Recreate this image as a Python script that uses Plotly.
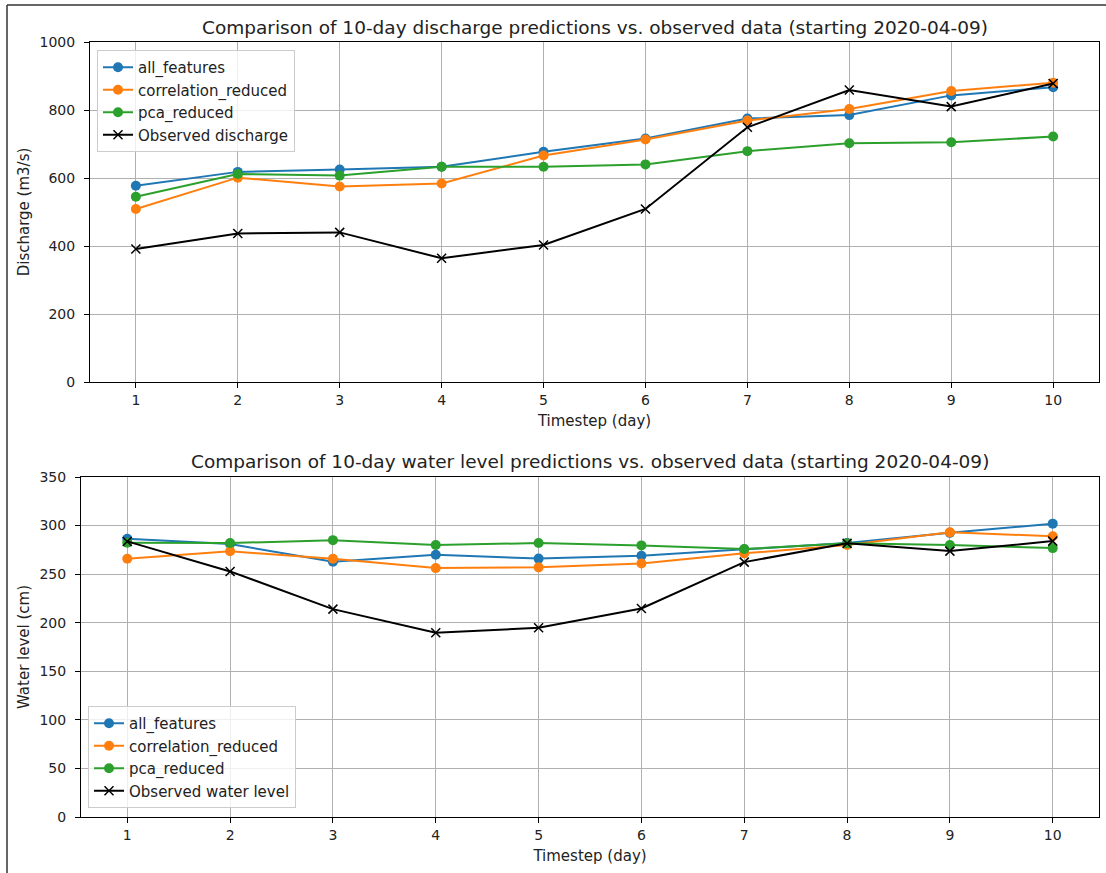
import plotly.graph_objects as go

days = [1, 2, 3, 4, 5, 6, 7, 8, 9, 10]

# Discharge (m3/s)
q_all_features = [577, 618, 625, 633, 677, 716, 775, 785, 843, 867]
q_correlation_reduced = [509, 601, 575, 584, 666, 713, 769, 803, 856, 880]
q_pca_reduced = [545, 612, 607, 633, 633, 640, 679, 702, 705, 722]
q_observed = [391, 437, 440, 364, 403, 509, 749, 859, 810, 878]

# Water level (cm)
w_all_features = [286.5, 281, 262.7, 270, 266, 269, 275.5, 282, 292.5, 302]
w_correlation_reduced = [265.8, 273.5, 265.8, 256.2, 257, 261, 271.4, 280, 293, 289]
w_pca_reduced = [282.3, 282, 285, 280, 282, 279.6, 275.8, 281.7, 280, 276.8]
w_observed = [283.7, 252.8, 214, 189.6, 194.8, 214.7, 262.4, 281.7, 273.7, 284]

x_ticks = [1, 2, 3, 4, 5, 6, 7, 8, 9, 10]
q_ticks = [0, 200, 400, 600, 800, 1000]
w_ticks = [0, 50, 100, 150, 200, 250, 300, 350]

title_q = "Comparison of 10-day discharge predictions vs. observed data (starting 2020-04-09)"
title_w = "Comparison of 10-day water level predictions vs. observed data (starting 2020-04-09)"

COLORS = {"all_features": "#1f77b4", "correlation_reduced": "#ff7f0e", "pca_reduced": "#2ca02c"}
FONT = "DejaVu Sans"

fig = go.Figure()

def add_model(name, y, xa, ya, legend):
    fig.add_trace(go.Scatter(
        x=days, y=y, name=name, mode="lines+markers",
        line=dict(color=COLORS[name], width=2),
        marker=dict(symbol="circle", size=10, color=COLORS[name]),
        xaxis=xa, yaxis=ya, legend=legend,
    ))

def add_obs(name, y, xa, ya, legend):
    fig.add_trace(go.Scatter(
        x=days, y=y, name=name, mode="lines+markers",
        line=dict(color="black", width=2),
        marker=dict(symbol="x-thin", size=9, color="black", line=dict(color="black", width=1.5)),
        xaxis=xa, yaxis=ya, legend=legend,
    ))

add_model("all_features", q_all_features, "x", "y", "legend")
add_model("correlation_reduced", q_correlation_reduced, "x", "y", "legend")
add_model("pca_reduced", q_pca_reduced, "x", "y", "legend")
add_obs("Observed discharge", q_observed, "x", "y", "legend")

add_model("all_features", w_all_features, "x2", "y2", "legend2")
add_model("correlation_reduced", w_correlation_reduced, "x2", "y2", "legend2")
add_model("pca_reduced", w_pca_reduced, "x2", "y2", "legend2")
add_obs("Observed water level", w_observed, "x2", "y2", "legend2")

W, H = 1106, 873
xdom_top = [90 / W, 1099 / W]
xdom_bot = [81 / W, 1099 / W]
ydom_top = [1 - 382 / H, 1 - 42 / H]
ydom_bot = [1 - 817 / H, 1 - 477 / H]

axis_common = dict(
    showline=True, linecolor="black", linewidth=1, mirror=True,
    ticks="outside", ticklen=5, tickcolor="black", tickwidth=1,
    showgrid=True, gridcolor="#b0b0b0", gridwidth=1,
    zeroline=False, automargin=False,
    tickfont=dict(family=FONT, size=14, color="#222"),
)

legend_common = dict(
    bgcolor="rgba(255,255,255,0.8)", bordercolor="#cccccc", borderwidth=1,
    font=dict(family=FONT, size=15, color="#222"),
    xanchor="left", tracegroupgap=0, itemwidth=30,
)

title_font = dict(family=FONT, size=15, color="#222")

fig.update_layout(
    width=W, height=H,
    margin=dict(l=0, r=0, t=0, b=0, autoexpand=False),
    paper_bgcolor="white", plot_bgcolor="white",
    font=dict(family=FONT, color="black"),
    xaxis=dict(domain=xdom_top, anchor="y", range=[0.55, 10.45], tickvals=x_ticks,
               title=dict(text="Timestep (day)", font=title_font, standoff=8),
               **axis_common),
    yaxis=dict(domain=ydom_top, anchor="x", range=[0, 1000], tickvals=q_ticks,
               ticklabelstandoff=6,
               title=dict(text="Discharge (m3/s)", font=title_font, standoff=6),
               **axis_common),
    xaxis2=dict(domain=xdom_bot, anchor="y2", range=[0.55, 10.45], tickvals=x_ticks,
                title=dict(text="Timestep (day)", font=title_font, standoff=8),
                **axis_common),
    yaxis2=dict(domain=ydom_bot, anchor="x2", range=[0, 350], tickvals=w_ticks,
                ticklabelstandoff=6,
                title=dict(text="Water level (cm)", font=title_font, standoff=6),
                **axis_common),
    legend=dict(x=97 / W, y=1 - 50 / H, yanchor="top", **legend_common),
    legend2=dict(x=88 / W, y=1 - 808 / H, yanchor="bottom", **legend_common),
    showlegend=True,
    annotations=[
        dict(text=title_q, x=(xdom_top[0] + xdom_top[1]) / 2, y=1 - 27 / H, xref="paper", yref="paper",
             showarrow=False, xanchor="center", yanchor="middle",
             font=dict(family=FONT, size=18.5, color="#222")),
        dict(text=title_w, x=(xdom_bot[0] + xdom_bot[1]) / 2, y=1 - 461 / H, xref="paper", yref="paper",
             showarrow=False, xanchor="center", yanchor="middle",
             font=dict(family=FONT, size=18.5, color="#222")),
    ],
    shapes=[
        dict(type="line", xref="paper", yref="paper", x0=7 / W, x1=1, y0=1 - 5 / H, y1=1 - 5 / H,
             line=dict(color="#333", width=1.5)),
        dict(type="line", xref="paper", yref="paper", x0=7 / W, x1=7 / W, y0=0, y1=1 - 5 / H,
             line=dict(color="#333", width=1.5)),
    ],
)

fig.write_html(
    "out.html",
    config={"displayModeBar": False},
    post_script="document.body.style.margin='0';document.body.style.overflow='hidden';",
)
